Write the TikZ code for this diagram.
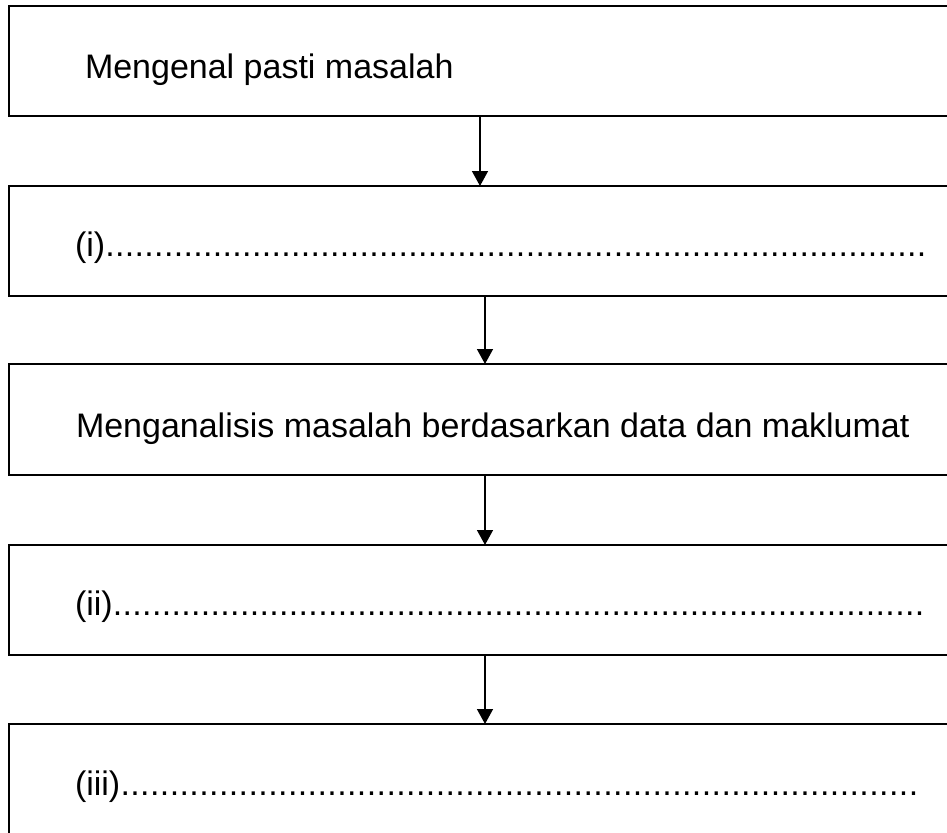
\documentclass[tikz,border=0pt]{standalone}
\usepackage{fontspec}
\setmainfont{Liberation Sans}
\usetikzlibrary{arrows.meta}
\newcommand{\dotrow}[2]{\hbox to #1{#2\xleaders\hbox to 9.77pt{\hss.\hss}\hfill}}
\tikzset{
  box/.style={draw=black, line width=1.3pt, rectangle, outer sep=0pt, inner sep=0pt,
              anchor=north west, minimum width=951pt, minimum height=110pt},
  lbl/.style={anchor=base west, inner sep=0pt, outer sep=0pt, font=\fontsize{34pt}{40pt}\selectfont},
  arr/.style={line width=1.5pt, -{Triangle[length=15pt,width=16pt]}}
}
\begin{document}
\begin{tikzpicture}[x=1pt,y=-1pt]
\useasboundingbox (0,0) rectangle (947,832);
\clip (0,0) rectangle (947,832);
\fill[white] (0,0) rectangle (947,832);
\node[box] (b1) at (9,6) {};
\node[box] (b2) at (9,186) {};
\node[box, minimum height=111pt] (b3) at (9,364) {};
\node[box] (b4) at (9,545) {};
\node[box, minimum height=120pt] (b5) at (9,724) {};
\node[lbl] (t1) at (85,79) {Mengenal pasti masalah};
\node[lbl] (t2) at (75,256) {\dotrow{851pt}{(i)}};
\node[lbl] (t3) at (76,437) {Menganalisis masalah berdasarkan data dan maklumat};
\node[lbl] (t4) at (75,615) {\dotrow{849pt}{(ii)}};
\node[lbl] (t5) at (75,795) {\dotrow{843pt}{(iii)}};
\coordinate (c1) at (480,0);
\coordinate (c2) at (485,0);
\draw[arr] (b1.south -| c1) -- (b2.north -| c1);
\draw[arr] (b2.south -| c2) -- (b3.north -| c2);
\draw[arr] (b3.south -| c2) -- (b4.north -| c2);
\draw[arr] (b4.south -| c2) -- (b5.north -| c2);
\end{tikzpicture}
\end{document}
